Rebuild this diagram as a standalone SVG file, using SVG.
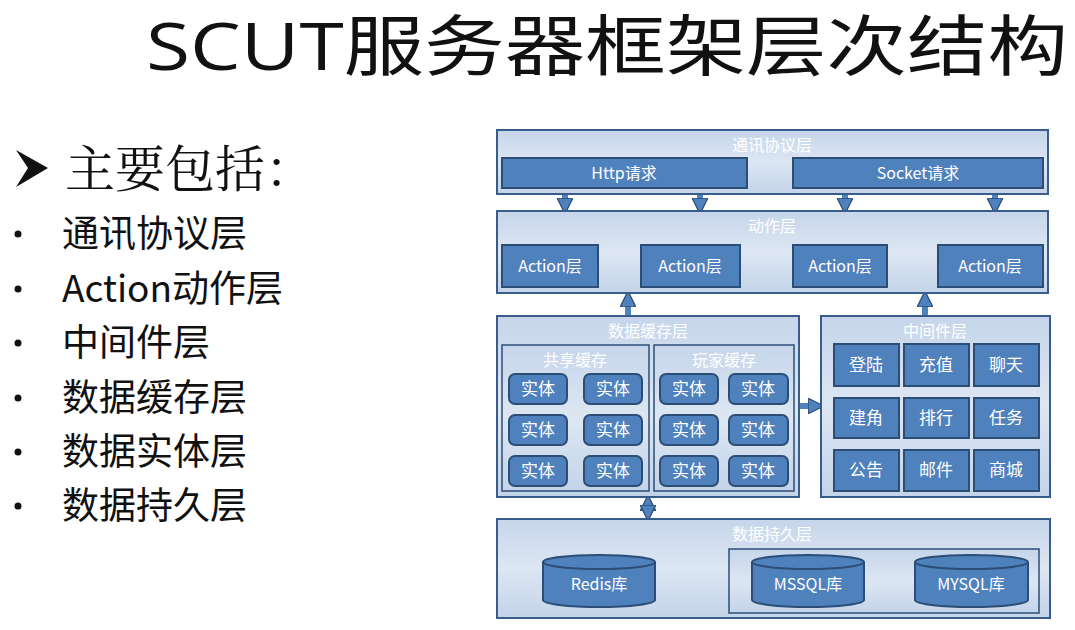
<svg xmlns="http://www.w3.org/2000/svg" width="1075" height="630" viewBox="0 0 1075 630">
<defs>
<linearGradient id="lg" x1="0" y1="0" x2="0" y2="1"><stop offset="0" stop-color="#c6d5ea"/><stop offset="0.5" stop-color="#dde7f3"/><stop offset="1" stop-color="#c3d3e9"/></linearGradient>
<marker id="ah" viewBox="0 0 10 10" refX="5" refY="5" markerWidth="2.6" markerHeight="2.6" orient="auto-start-reverse"><path d="M0,0 L10,5 L0,10 z" fill="#4f81bd" stroke="#2c4d75" stroke-width="0.8"/></marker>
</defs>
<style>
.layer{fill:url(#lg);stroke:#385d8a;stroke-width:2}
.sub{fill:url(#lg);stroke:#2c4d75;stroke-width:1.5}
.box{fill:#4f81bd;stroke:#2c4d75;stroke-width:2}
.t{font-family:"Noto Sans CJK SC","Open Sans",sans-serif;fill:#fff;text-anchor:middle}
.lt{font-size:16px}
.bt{font-size:16px}
.ct{font-size:17px}
.conn line{stroke:#4f81bd;stroke-width:6;marker-end:url(#ah)}
.left{font-family:"Noto Sans CJK SC",sans-serif;font-size:37px;fill:#111}
</style>
<rect width="1075" height="630" fill="#fff"/>
<text x="146" y="70" font-family="'Open Sans','Noto Sans CJK SC',sans-serif" font-size="66" fill="#111" textLength="922" lengthAdjust="spacingAndGlyphs">SCUT服务器框架层次结构</text>
<g id="left">
<path d="M16,150 L48,168 L16,187 L28,168 z" fill="#111"/>
<text x="65" y="187" font-family="'Noto Serif CJK SC','Noto Sans CJK SC',serif" font-size="50" fill="#111">主要包括：</text>
<g fill="#111"><circle cx="18" cy="234" r="3.5"/><circle cx="18" cy="289" r="3.5"/><circle cx="18" cy="343" r="3.5"/><circle cx="18" cy="398" r="3.5"/><circle cx="18" cy="452" r="3.5"/><circle cx="18" cy="506" r="3.5"/></g>
<text x="62" y="247" class="left">通讯协议层</text>
<text x="62" y="302" class="left" font-family="'Open Sans','Noto Sans CJK SC',sans-serif">Action动作层</text>
<text x="62" y="356" class="left">中间件层</text>
<text x="62" y="411" class="left">数据缓存层</text>
<text x="62" y="465" class="left">数据实体层</text>
<text x="62" y="519" class="left">数据持久层</text>
</g>
<g id="connectors" class="conn">
<line x1="565" y1="194" x2="565" y2="206"/>
<line x1="700" y1="194" x2="700" y2="206"/>
<line x1="845" y1="194" x2="845" y2="206"/>
<line x1="995" y1="194" x2="995" y2="206"/>
<line x1="628" y1="316" x2="628" y2="299"/>
<line x1="925" y1="316" x2="925" y2="299"/>
<line x1="799" y1="406" x2="816" y2="406"/>
<line x1="648" y1="508" x2="648" y2="503"/>
<line x1="648" y1="508" x2="648" y2="513"/>
</g>
<g id="comm">
<rect class="layer" x="497" y="130" width="551" height="64"/>
<text class="t lt" x="772" y="151">通讯协议层</text>
<rect class="box" x="502" y="158" width="245" height="30"/><text class="t bt" x="624" y="179">Http请求</text>
<rect class="box" x="793" y="158" width="250" height="30"/><text class="t bt" x="918" y="179">Socket请求</text>
</g>
<g id="action">
<rect class="layer" x="497" y="211" width="551" height="82"/>
<text class="t lt" x="772" y="232">动作层</text>
<rect class="box" x="502" y="245" width="96" height="42"/><text class="t bt" x="550" y="272">Action层</text>
<rect class="box" x="641" y="245" width="99" height="42"/><text class="t bt" x="690" y="272">Action层</text>
<rect class="box" x="793" y="245" width="94" height="42"/><text class="t bt" x="840" y="272">Action层</text>
<rect class="box" x="938" y="245" width="105" height="42"/><text class="t bt" x="990" y="272">Action层</text>
</g>
<g id="cache">
<rect class="layer" x="497" y="316" width="302" height="181"/>
<text class="t lt" x="648" y="337">数据缓存层</text>
<rect class="sub" x="502" y="345" width="147" height="146"/><text class="t lt" x="575" y="366">共享缓存</text>
<rect class="sub" x="654" y="345" width="140" height="146"/><text class="t lt" x="724" y="366">玩家缓存</text>
<g>
<rect class="box" x="509" y="374" width="58" height="30" rx="6"/><text class="t ct" x="538" y="395">实体</text>
<rect class="box" x="584" y="374" width="58" height="30" rx="6"/><text class="t ct" x="613" y="395">实体</text>
<rect class="box" x="509" y="415" width="58" height="30" rx="6"/><text class="t ct" x="538" y="436">实体</text>
<rect class="box" x="584" y="415" width="58" height="30" rx="6"/><text class="t ct" x="613" y="436">实体</text>
<rect class="box" x="509" y="456" width="58" height="30" rx="6"/><text class="t ct" x="538" y="477">实体</text>
<rect class="box" x="584" y="456" width="58" height="30" rx="6"/><text class="t ct" x="613" y="477">实体</text>
<rect class="box" x="660" y="374" width="58" height="30" rx="6"/><text class="t ct" x="689" y="395">实体</text>
<rect class="box" x="729" y="374" width="59" height="30" rx="6"/><text class="t ct" x="758" y="395">实体</text>
<rect class="box" x="660" y="415" width="58" height="30" rx="6"/><text class="t ct" x="689" y="436">实体</text>
<rect class="box" x="729" y="415" width="59" height="30" rx="6"/><text class="t ct" x="758" y="436">实体</text>
<rect class="box" x="660" y="456" width="58" height="30" rx="6"/><text class="t ct" x="689" y="477">实体</text>
<rect class="box" x="729" y="456" width="59" height="30" rx="6"/><text class="t ct" x="758" y="477">实体</text>
</g>
</g>
<g id="middleware">
<rect class="layer" x="821" y="316" width="229" height="181"/>
<text class="t lt" x="935" y="337">中间件层</text>
<rect class="box" x="834" y="344" width="65" height="42"/><text class="t ct" x="866" y="371">登陆</text>
<rect class="box" x="904" y="344" width="65" height="42"/><text class="t ct" x="936" y="371">充值</text>
<rect class="box" x="974" y="344" width="65" height="42"/><text class="t ct" x="1006" y="371">聊天</text>
<rect class="box" x="834" y="398" width="65" height="40"/><text class="t ct" x="866" y="424">建角</text>
<rect class="box" x="904" y="398" width="65" height="40"/><text class="t ct" x="936" y="424">排行</text>
<rect class="box" x="974" y="398" width="65" height="40"/><text class="t ct" x="1006" y="424">任务</text>
<rect class="box" x="834" y="450" width="65" height="41"/><text class="t ct" x="866" y="476">公告</text>
<rect class="box" x="904" y="450" width="65" height="41"/><text class="t ct" x="936" y="476">邮件</text>
<rect class="box" x="974" y="450" width="65" height="41"/><text class="t ct" x="1006" y="476">商城</text>
</g>
<g id="persist">
<rect class="layer" x="497" y="519" width="553" height="99"/>
<text class="t lt" x="772" y="540">数据持久层</text>
<rect class="sub" x="729" y="549" width="310" height="64"/>
<g id="redis"><path class="box" d="M543,562 v38 a56,7 0 0 0 112,0 v-38"/><ellipse class="box" cx="599" cy="562" rx="56" ry="7"/><text class="t bt" x="599" y="590">Redis库</text></g>
<g id="mssql"><path class="box" d="M752,562 v38 a56,7 0 0 0 112,0 v-38"/><ellipse class="box" cx="808" cy="562" rx="56" ry="7"/><text class="t bt" x="808" y="590">MSSQL库</text></g>
<g id="mysql"><path class="box" d="M915,562 v38 a56.5,7 0 0 0 113,0 v-38"/><ellipse class="box" cx="971.5" cy="562" rx="56.5" ry="7"/><text class="t bt" x="971" y="590">MYSQL库</text></g>
</g>
</svg>
